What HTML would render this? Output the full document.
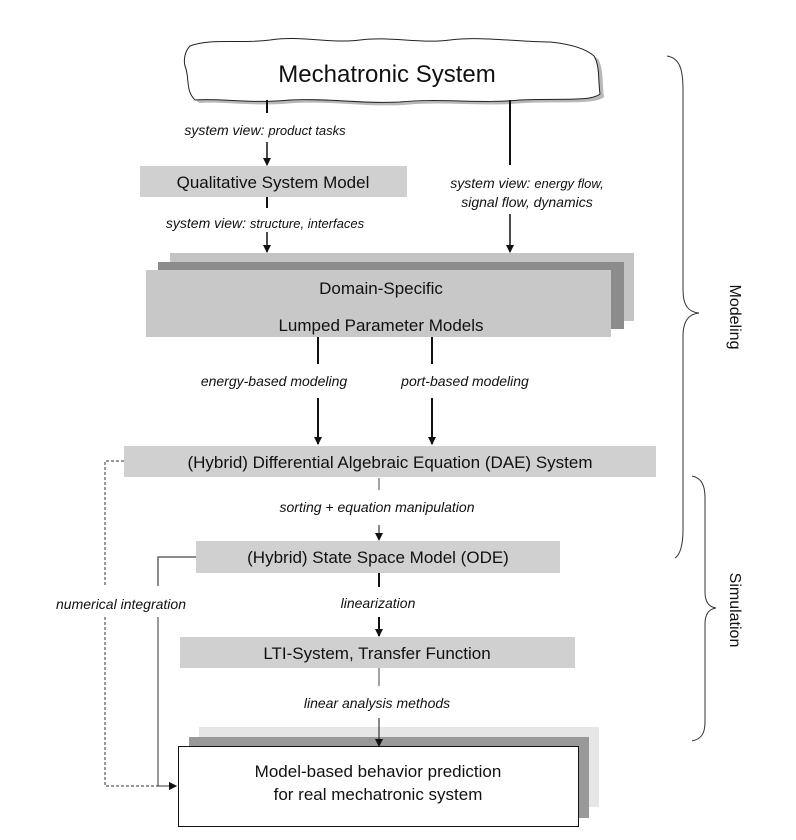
<!DOCTYPE html>
<html><head><meta charset="utf-8"><style>
html,body{margin:0;padding:0;background:#fff;}
svg{display:block;font-family:"Liberation Sans",Arial,sans-serif;}
.it{font-style:italic;font-size:14px;fill:#111;}
.bx{font-size:17px;fill:#111;}
</style></head><body>
<svg width="796" height="840" viewBox="0 0 796 840" xmlns="http://www.w3.org/2000/svg">
<defs>
<marker id="ah" markerWidth="8" markerHeight="8" refX="7" refY="4" orient="auto" markerUnits="userSpaceOnUse">
<path d="M0,0 L8,4 L0,8 Z" fill="#111"/></marker>
</defs>
<!-- cloud -->
<path d="M190,46 C210,38 240,44 270,40 C300,35 330,44 360,40 C390,36 420,44 450,40 C480,36 520,42 550,42 C570,44 585,48 594,56 C600,66 598,80 600,94 C590,102 560,98 520,100 C480,104 440,98 400,102 C360,104 330,98 290,100 C250,104 220,98 195,100 C185,90 190,78 185,66 C183,58 186,50 190,46 Z" fill="#b8b8b8" transform="translate(4,3)"/>
<path d="M190,46 C210,38 240,44 270,40 C300,35 330,44 360,40 C390,36 420,44 450,40 C480,36 520,42 550,42 C570,44 585,48 594,56 C600,66 598,80 600,94 C590,102 560,98 520,100 C480,104 440,98 400,102 C360,104 330,98 290,100 C250,104 220,98 195,100 C185,90 190,78 185,66 C183,58 186,50 190,46 Z" fill="#fff" stroke="#222" stroke-width="1"/>
<text x="387" y="82" font-size="24" text-anchor="middle" fill="#111">Mechatronic System</text>

<!-- left column top -->
<line x1="267" y1="100" x2="267" y2="113" stroke="#111" stroke-width="2"/>
<text class="it" x="265" y="135" text-anchor="middle">system view:  <tspan font-size="13">product  tasks</tspan></text>
<line x1="267" y1="142" x2="267" y2="165" stroke="#111" stroke-width="1.5" marker-end="url(#ah)"/>
<rect x="140" y="166" width="267" height="31" fill="#d0d0d0"/>
<text class="bx" x="273" y="188" text-anchor="middle">Qualitative System Model</text>
<line x1="267" y1="197" x2="267" y2="208" stroke="#111" stroke-width="2"/>
<text class="it" x="265" y="228" text-anchor="middle">system view:  <tspan font-size="13">structure, interfaces</tspan></text>
<line x1="267" y1="232" x2="267" y2="252" stroke="#111" stroke-width="1.5" marker-end="url(#ah)"/>

<!-- right column -->
<line x1="510" y1="100" x2="510" y2="165" stroke="#111" stroke-width="2"/>
<text class="it" x="527" y="188" text-anchor="middle">system view:  <tspan font-size="13">energy flow,</tspan></text>
<text class="it" x="527" y="207" text-anchor="middle" font-size="13">signal flow, dynamics</text>
<line x1="510" y1="214" x2="510" y2="252" stroke="#111" stroke-width="1.5" marker-end="url(#ah)"/>

<!-- domain stack -->
<rect x="170" y="253" width="464" height="68" fill="#c4c4c4"/>
<rect x="158" y="262" width="466" height="67" fill="#8c8c8c"/>
<rect x="146" y="270" width="465" height="67" fill="#c8c8c8"/>
<text class="bx" x="381" y="294" text-anchor="middle">Domain-Specific</text>
<text class="bx" x="381" y="331" text-anchor="middle">Lumped Parameter Models</text>

<line x1="318" y1="337" x2="318" y2="364" stroke="#111" stroke-width="2"/>
<line x1="432" y1="337" x2="432" y2="364" stroke="#111" stroke-width="2"/>
<text class="it" x="274" y="386" text-anchor="middle">energy-based modeling</text>
<text class="it" x="465" y="386" text-anchor="middle">port-based  modeling</text>
<line x1="318" y1="398" x2="318" y2="444" stroke="#111" stroke-width="2" marker-end="url(#ah)"/>
<line x1="432" y1="398" x2="432" y2="444" stroke="#111" stroke-width="2" marker-end="url(#ah)"/>

<!-- DAE -->
<rect x="124" y="446" width="532" height="31" fill="#d0d0d0"/>
<text class="bx" x="390" y="468" text-anchor="middle">(Hybrid) Differential Algebraic Equation (DAE) System</text>
<line x1="379" y1="478" x2="379" y2="490" stroke="#444" stroke-width="1"/>
<text class="it" x="377" y="512" text-anchor="middle">sorting + equation manipulation</text>
<line x1="379" y1="525" x2="379" y2="540" stroke="#111" stroke-width="1" marker-end="url(#ah)"/>

<!-- ODE -->
<rect x="196" y="541" width="364" height="32" fill="#d0d0d0"/>
<text class="bx" x="378" y="563" text-anchor="middle">(Hybrid) State Space Model (ODE)</text>
<line x1="379" y1="573" x2="379" y2="587" stroke="#111" stroke-width="2"/>
<text class="it" x="378" y="608" text-anchor="middle">linearization</text>
<line x1="379" y1="617" x2="379" y2="636" stroke="#111" stroke-width="2" marker-end="url(#ah)"/>

<!-- LTI -->
<rect x="180" y="637" width="395" height="31" fill="#d0d0d0"/>
<text class="bx" x="377" y="659" text-anchor="middle">LTI-System, Transfer Function</text>
<line x1="379" y1="668" x2="379" y2="686" stroke="#444" stroke-width="1"/>
<text class="it" x="377" y="708" text-anchor="middle">linear  analysis methods</text>

<!-- bottom stack -->
<rect x="199" y="727" width="400" height="80" fill="#e6e6e6"/>
<rect x="189" y="737" width="400" height="81" fill="#999"/>
<rect x="178.5" y="746.5" width="400" height="80" fill="#fff" stroke="#111" stroke-width="1"/>
<text class="bx" x="378" y="777" text-anchor="middle">Model-based behavior prediction</text>
<text class="bx" x="378" y="800" text-anchor="middle">for real mechatronic system</text>
<line x1="379" y1="718" x2="379" y2="746" stroke="#111" stroke-width="1" marker-end="url(#ah)"/>

<!-- dashed feedback -->
<polyline points="124,461 105,461 105,586" fill="none" stroke="#333" stroke-width="1" stroke-dasharray="3,2"/>
<polyline points="105,617 105,786 176,786" fill="none" stroke="#333" stroke-width="1" stroke-dasharray="3,2" marker-end="url(#ah)"/>
<!-- solid gray feedback -->
<polyline points="196,557 158,557 158,586" fill="none" stroke="#666" stroke-width="1.5"/>
<polyline points="158,617 158,786 176,786" fill="none" stroke="#333" stroke-width="1" marker-end="url(#ah)"/>
<text class="it" x="121" y="609" text-anchor="middle">numerical integration</text>

<!-- braces -->
<path d="M667,56 C680,58 683,70 683,90 L683,290 C683,305 688,312 699,313 C688,314 683,322 683,336 L683,530 C683,545 680,555 675,558" fill="none" stroke="#333" stroke-width="1"/>
<text x="730" y="317" font-size="16" fill="#111" text-anchor="middle" transform="rotate(90 730 317)">Modeling</text>
<path d="M692,476 C702,478 705,486 705,498 L705,592 C705,602 709,607 716,608 C709,609 705,614 705,624 L705,722 C705,734 701,739 692,741" fill="none" stroke="#333" stroke-width="1"/>
<text x="730" y="610" font-size="16" fill="#111" text-anchor="middle" transform="rotate(90 730 610)">Simulation</text>
</svg>
</body></html>
